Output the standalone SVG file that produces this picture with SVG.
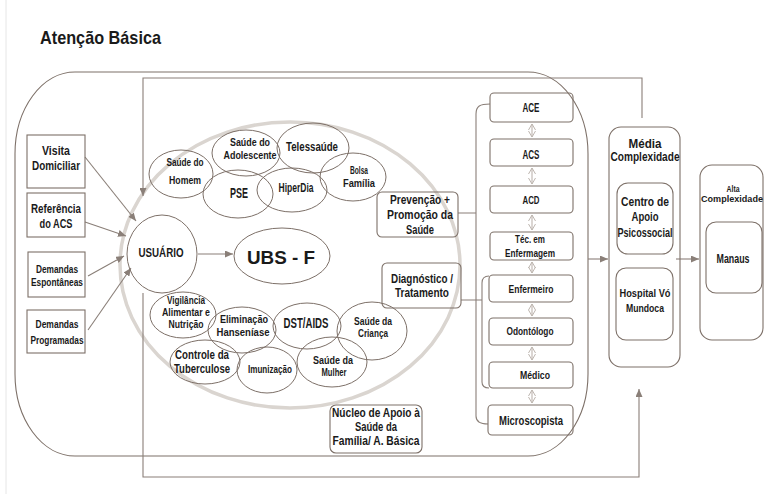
<svg xmlns="http://www.w3.org/2000/svg" width="765" height="494" viewBox="0 0 765 494">
<style>
text{font-family:"Liberation Sans",Arial,sans-serif;font-weight:bold;fill:#1a1a1a;text-anchor:middle}
.box{fill:none;stroke:#7d7068;stroke-width:1.1}
.ell{fill:none;stroke:#7d7068;stroke-width:1}
.ln{fill:none;stroke:#8a7f78;stroke-width:1.1}
.dbl{fill:none;stroke:#bdb5af;stroke-width:1.1}
</style>
<defs>
<marker id="ah" markerUnits="userSpaceOnUse" markerWidth="9" markerHeight="7" refX="8" refY="3.5" orient="auto"><path d="M0,0 L8,3.5 L0,7 z" fill="#8a7f78"/></marker>
<marker id="dh" markerUnits="userSpaceOnUse" markerWidth="8" markerHeight="8" refX="6" refY="4" orient="auto-start-reverse"><path d="M0,0.5 L6,4 L0,7.5" fill="none" stroke="#bdb5af" stroke-width="1"/></marker>
</defs>
<rect width="765" height="494" fill="#fff"/>
<line x1="6" y1="0" x2="6" y2="494" stroke="#e6e6e6" stroke-width="1"/>
<text x="40" y="44" style="text-anchor:start;font-size:19px" textLength="121" lengthAdjust="spacingAndGlyphs">Atenção Básica</text>

<g id="atencao-basica"><rect x="15" y="72" width="573" height="384" rx="60" ry="82" class="box"/></g>
<g id="ubs-circle"><ellipse cx="290" cy="265" rx="170" ry="143" fill="none" stroke="#dad5d0" stroke-width="3.5"/></g>

<g id="connectors">
<path class="ln" d="M642,118 V78 H143 V196" marker-end="url(#ah)"/>
<path class="ln" d="M143,293 V477 H639 V389" marker-end="url(#ah)"/>
<path class="ln" d="M85,157 L136,221" marker-end="url(#ah)"/>
<path class="ln" d="M85,222 L126,236" marker-end="url(#ah)"/>
<path class="ln" d="M88,276 L124,256" marker-end="url(#ah)"/>
<path class="ln" d="M88,330 L131,268" marker-end="url(#ah)"/>
<path class="ln" d="M198,254 L233,254" marker-end="url(#ah)"/>
<path class="ln" d="M588,259 L608,259" marker-end="url(#ah)"/>
<path class="ln" d="M676,259 L699,259" marker-end="url(#ah)"/>
<path class="ln" d="M458,213 H476 M490,104 C480,104 476,106 476,114 V416 C476,421 480,424 488,424"/>
<path class="ln" d="M461,300 H482 M489,276 C484,276 482,278 482,283 V382 C482,386 485,388 489,388"/>
<path class="dbl" d="M532,124 V137" marker-start="url(#dh)" marker-end="url(#dh)"/>
<path class="dbl" d="M532,168 V184" marker-start="url(#dh)" marker-end="url(#dh)"/>
<path class="dbl" d="M532,215 V230" marker-start="url(#dh)" marker-end="url(#dh)"/>
<path class="dbl" d="M532,262 V273" marker-start="url(#dh)" marker-end="url(#dh)"/>
<path class="dbl" d="M532,304 V316" marker-start="url(#dh)" marker-end="url(#dh)"/>
<path class="dbl" d="M532,347 V360" marker-start="url(#dh)" marker-end="url(#dh)"/>
<path class="dbl" d="M532,390 V403" marker-start="url(#dh)" marker-end="url(#dh)"/>
</g>

<g id="visita"><rect x="27" y="135" width="58" height="53" class="box"/>
<text x="56" y="155" font-size="13.5" textLength="28" lengthAdjust="spacingAndGlyphs">Visita</text>
<text x="56" y="170" font-size="13.5" textLength="48" lengthAdjust="spacingAndGlyphs">Domiciliar</text></g>
<g id="referencia"><rect x="27" y="193" width="58" height="44" class="box"/>
<text x="56" y="213" font-size="13.5" textLength="50" lengthAdjust="spacingAndGlyphs">Referência</text>
<text x="56" y="228" font-size="13.5" textLength="33" lengthAdjust="spacingAndGlyphs">do ACS</text></g>
<g id="espontaneas"><rect x="28" y="252" width="57" height="45" class="box"/>
<text x="57" y="273" font-size="11" textLength="42" lengthAdjust="spacingAndGlyphs">Demandas</text>
<text x="57" y="286" font-size="11" textLength="52" lengthAdjust="spacingAndGlyphs">Espontâneas</text></g>
<g id="programadas"><rect x="27" y="310" width="58" height="43" class="box"/>
<text x="57" y="328" font-size="11" textLength="43" lengthAdjust="spacingAndGlyphs">Demandas</text>
<text x="57" y="344" font-size="11" textLength="53" lengthAdjust="spacingAndGlyphs">Programadas</text></g>

<g id="usuario"><ellipse cx="162" cy="254" rx="35" ry="39" class="ell"/>
<text x="161" y="257" font-size="12.5" textLength="45" lengthAdjust="spacingAndGlyphs">USUÁRIO</text></g>
<g id="ubs-f"><ellipse cx="282" cy="256" rx="48" ry="28" class="ell"/>
<text x="281" y="264" font-size="19" textLength="68" lengthAdjust="spacingAndGlyphs">UBS - F</text></g>

<g id="saude-homem"><ellipse cx="181" cy="174" rx="32" ry="24" class="ell"/>
<text x="185" y="166" font-size="11" textLength="37" lengthAdjust="spacingAndGlyphs">Saúde do</text>
<text x="185" y="184" font-size="11" textLength="32" lengthAdjust="spacingAndGlyphs">Homem</text></g>
<g id="saude-adolescente"><ellipse cx="246" cy="153" rx="34" ry="23" class="ell"/>
<text x="250" y="146" font-size="10.5" textLength="40" lengthAdjust="spacingAndGlyphs">Saúde do</text>
<text x="250" y="159" font-size="10.5" textLength="53" lengthAdjust="spacingAndGlyphs">Adolescente</text></g>
<g id="telessaude"><ellipse cx="313" cy="148" rx="36" ry="25" class="ell"/>
<text x="312" y="151" font-size="13" textLength="52" lengthAdjust="spacingAndGlyphs">Telessaúde</text></g>
<g id="bolsa-familia"><ellipse cx="353" cy="177" rx="33" ry="24" class="ell"/>
<text x="359" y="174" font-size="10" textLength="18" lengthAdjust="spacingAndGlyphs">Bolsa</text>
<text x="359" y="187" font-size="10" textLength="32" lengthAdjust="spacingAndGlyphs">Família</text></g>
<g id="pse"><ellipse cx="238" cy="194" rx="35" ry="24" class="ell"/>
<text x="239" y="198" font-size="14" textLength="18" lengthAdjust="spacingAndGlyphs">PSE</text></g>
<g id="hiperdia"><ellipse cx="292" cy="190" rx="35" ry="22" class="ell"/>
<text x="296" y="192" font-size="12" textLength="35" lengthAdjust="spacingAndGlyphs">HiperDia</text></g>

<g id="vigilancia"><ellipse cx="183" cy="315" rx="33" ry="23" class="ell"/>
<text x="186" y="304" font-size="10.5" textLength="38" lengthAdjust="spacingAndGlyphs">Vigilância</text>
<text x="186" y="316" font-size="10.5" textLength="48" lengthAdjust="spacingAndGlyphs">Alimentar e</text>
<text x="186" y="328" font-size="10.5" textLength="35" lengthAdjust="spacingAndGlyphs">Nutrição</text></g>
<g id="eliminacao"><ellipse cx="242" cy="330" rx="34" ry="23" class="ell"/>
<text x="244" y="323" font-size="10.5" textLength="48" lengthAdjust="spacingAndGlyphs">Eliminação</text>
<text x="243" y="336" font-size="10.5" textLength="53" lengthAdjust="spacingAndGlyphs">Hanseníase</text></g>
<g id="dst-aids"><ellipse cx="307" cy="326" rx="34" ry="23" class="ell"/>
<text x="306" y="328" font-size="14" textLength="45" lengthAdjust="spacingAndGlyphs">DST/AIDS</text></g>
<g id="saude-crianca"><ellipse cx="372" cy="331" rx="35" ry="29" class="ell"/>
<text x="373" y="325" font-size="11" textLength="38" lengthAdjust="spacingAndGlyphs">Saúde da</text>
<text x="373" y="337" font-size="11" textLength="30" lengthAdjust="spacingAndGlyphs">Criança</text></g>
<g id="controle-tb"><ellipse cx="205" cy="362" rx="35" ry="22" class="ell"/>
<text x="202" y="359" font-size="12" textLength="54" lengthAdjust="spacingAndGlyphs">Controle da</text>
<text x="202" y="373" font-size="12" textLength="56" lengthAdjust="spacingAndGlyphs">Tuberculose</text></g>
<g id="imunizacao"><ellipse cx="267" cy="370" rx="30" ry="23" class="ell"/>
<text x="270" y="373" font-size="10.5" textLength="44" lengthAdjust="spacingAndGlyphs">Imunização</text></g>
<g id="saude-mulher"><ellipse cx="332" cy="362" rx="35" ry="25" class="ell"/>
<text x="333" y="364" font-size="11" textLength="40" lengthAdjust="spacingAndGlyphs">Saúde da</text>
<text x="334" y="376" font-size="11" textLength="25" lengthAdjust="spacingAndGlyphs">Mulher</text></g>

<g id="prevencao"><rect x="377" y="192" width="81" height="45" rx="5" class="box"/>
<text x="420" y="204" font-size="13.5" textLength="60" lengthAdjust="spacingAndGlyphs">Prevenção +</text>
<text x="420" y="219" font-size="13.5" textLength="66" lengthAdjust="spacingAndGlyphs">Promoção da</text>
<text x="420" y="234" font-size="13.5" textLength="28" lengthAdjust="spacingAndGlyphs">Saúde</text></g>
<g id="diagnostico"><rect x="382" y="263" width="79" height="45" rx="5" class="box"/>
<text x="422" y="283" font-size="13.5" textLength="62" lengthAdjust="spacingAndGlyphs">Diagnóstico /</text>
<text x="422" y="297" font-size="13.5" textLength="54" lengthAdjust="spacingAndGlyphs">Tratamento</text></g>
<g id="nucleo"><rect x="330" y="405" width="92" height="48" rx="6" class="box"/>
<text x="376" y="417" font-size="12" textLength="88" lengthAdjust="spacingAndGlyphs">Núcleo de Apoio à</text>
<text x="376" y="431" font-size="12" textLength="42" lengthAdjust="spacingAndGlyphs">Saúde da</text>
<text x="376" y="445" font-size="12" textLength="87" lengthAdjust="spacingAndGlyphs">Família/ A. Básica</text></g>

<g id="ace"><rect x="490" y="93" width="83" height="29" rx="4" class="box"/>
<text x="531" y="112" font-size="12.5" textLength="17" lengthAdjust="spacingAndGlyphs">ACE</text></g>
<g id="acs"><rect x="490" y="139" width="83" height="27" rx="4" class="box"/>
<text x="531" y="159" font-size="12.5" textLength="17" lengthAdjust="spacingAndGlyphs">ACS</text></g>
<g id="acd"><rect x="490" y="186" width="83" height="27" rx="4" class="box"/>
<text x="531" y="204" font-size="11" textLength="17" lengthAdjust="spacingAndGlyphs">ACD</text></g>
<g id="tec-enfermagem"><rect x="490" y="232" width="83" height="28" rx="4" class="box"/>
<text x="530" y="243" font-size="11" textLength="30" lengthAdjust="spacingAndGlyphs">Téc. em</text>
<text x="530" y="257" font-size="11" textLength="50" lengthAdjust="spacingAndGlyphs">Enfermagem</text></g>
<g id="enfermeiro"><rect x="489" y="275" width="84" height="27" rx="4" class="box"/>
<text x="531" y="293" font-size="11" textLength="45" lengthAdjust="spacingAndGlyphs">Enfermeiro</text></g>
<g id="odontologo"><rect x="489" y="318" width="84" height="27" rx="4" class="box"/>
<text x="530" y="335" font-size="11" textLength="47" lengthAdjust="spacingAndGlyphs">Odontólogo</text></g>
<g id="medico"><rect x="489" y="362" width="84" height="26" rx="4" class="box"/>
<text x="535" y="379" font-size="11" textLength="30" lengthAdjust="spacingAndGlyphs">Médico</text></g>
<g id="microscopista"><rect x="488" y="405" width="85" height="30" rx="4" class="box"/>
<text x="531" y="425" font-size="13" textLength="64" lengthAdjust="spacingAndGlyphs">Microscopista</text></g>

<g id="media"><rect x="609" y="127" width="71" height="240" rx="12" class="box"/>
<text x="645" y="148" font-size="12.5" textLength="33" lengthAdjust="spacingAndGlyphs">Média</text>
<text x="645" y="161" font-size="12.5" textLength="69" lengthAdjust="spacingAndGlyphs">Complexidade</text></g>
<g id="caps"><rect x="617" y="183" width="56" height="71" rx="11" class="box"/>
<text x="645" y="206" font-size="13" textLength="48" lengthAdjust="spacingAndGlyphs">Centro de</text>
<text x="645" y="221" font-size="13" textLength="27" lengthAdjust="spacingAndGlyphs">Apoio</text>
<text x="645" y="237" font-size="13" textLength="55" lengthAdjust="spacingAndGlyphs">Psicossocial</text></g>
<g id="hospital"><rect x="616" y="268" width="57" height="72" rx="10" class="box"/>
<text x="645" y="297" font-size="11" textLength="51" lengthAdjust="spacingAndGlyphs">Hospital Vó</text>
<text x="645" y="312" font-size="11" textLength="38" lengthAdjust="spacingAndGlyphs">Mundoca</text></g>
<g id="alta"><rect x="700" y="165" width="63" height="175" rx="12" class="box"/>
<text x="733" y="192" font-size="9.5" textLength="13" lengthAdjust="spacingAndGlyphs">Alta</text>
<text x="732" y="202" font-size="9.5" textLength="62" lengthAdjust="spacingAndGlyphs">Complexidade</text></g>
<g id="manaus"><rect x="706" y="222" width="56" height="71" rx="10" class="box"/>
<text x="733" y="263" font-size="13" textLength="33" lengthAdjust="spacingAndGlyphs">Manaus</text></g>
</svg>
